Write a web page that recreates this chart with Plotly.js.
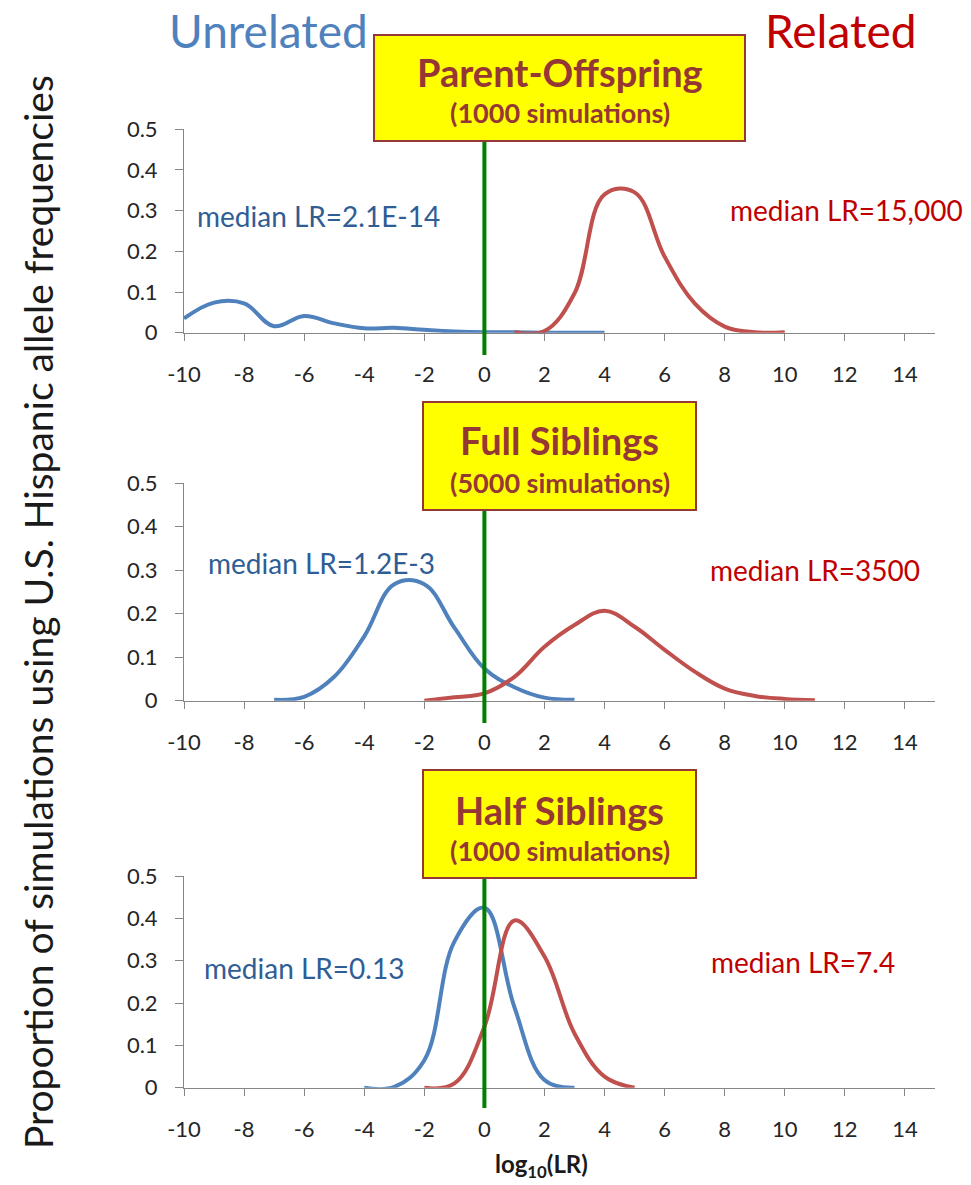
<!DOCTYPE html>
<html>
<head>
<meta charset="utf-8">
<script src="https://cdn.plot.ly/plotly-3.0.1.min.js"></script>
<style>html,body{margin:0;padding:0;background:#fff;}</style>
</head>
<body>
<div id="chart" style="width:971px;height:1185px;"></div>
<script>
// ---------------- data ----------------
const panelTitles = ["Parent-Offspring", "Full Siblings", "Half Siblings"];
const panelSims = ["(1000 simulations)", "(5000 simulations)", "(1000 simulations)"];
const medianUnrelated = ["median LR=2.1E-14", "median LR=1.2E-3", "median LR=0.13"];
const medianRelated = ["median LR=15,000", "median LR=3500", "median LR=7.4"];

// Parent-Offspring
const poUnrelX = [-10, -9, -8, -7, -6, -5, -4, -3, -2, -1, 0, 1, 2, 3, 4];
const poUnrelY = [0.035, 0.074, 0.072, 0.016, 0.041, 0.023, 0.011, 0.012, 0.007, 0.003, 0.001, 0.001, 0, 0, 0];
const poRelX = [1, 2, 3, 4, 5, 6, 7, 8, 9, 10];
const poRelY = [0.002, 0.004, 0.097, 0.34, 0.345, 0.187, 0.072, 0.015, 0.001, 0.001];

// Full Siblings
const fsUnrelX = [-7, -6, -5, -4, -3, -2, -1, 0, 1, 2, 3];
const fsUnrelY = [0.002, 0.009, 0.055, 0.148, 0.268, 0.268, 0.168, 0.074, 0.031, 0.007, 0.002];
const fsRelX = [-2, -1, 0, 1, 2, 3, 4, 5, 6, 7, 8, 9, 10, 11];
const fsRelY = [0.0, 0.008, 0.017, 0.055, 0.124, 0.174, 0.207, 0.17, 0.117, 0.067, 0.028, 0.011, 0.004, 0.001];

// Half Siblings
const hsUnrelX = [-4, -3, -2, -1, 0, 1, 2, 3];
const hsUnrelY = [0.0, 0.002, 0.065, 0.345, 0.425, 0.19, 0.018, 0.0];
const hsRelX = [-2, -1, 0, 1, 2, 3, 4, 5];
const hsRelY = [0.0, 0.01, 0.144, 0.395, 0.31, 0.128, 0.026, 0.0];

const xTickVals = [-10, -8, -6, -4, -2, 0, 2, 4, 6, 8, 10, 12, 14];
const xTickText = ["-10", "-8", "-6", "-4", "-2", "0", "2", "4", "6", "8", "10", "12", "14"];
const yTickVals = [0, 0.1, 0.2, 0.3, 0.4, 0.5];
const yTickText = ["0", "0.1", "0.2", "0.3", "0.4", "0.5"];

// ---------------- styling / layout helpers ----------------
const W = 971, H = 1185;
const px = v => v / W;
const py = v => 1 - v / H;
const BLUE = "#4F81BD", RED = "#C0504D", GREEN = "#008000";
const BOXTXT = "#953735";
const FONT = "Lato, 'Open Sans', sans-serif";

const xDomain = [px(184), px(935)];
const yDomains = [
  [py(332.7), py(129.3)],
  [py(700.7), py(483.3)],
  [py(1087.7), py(876)]
];

const series = [
  [poUnrelX, poUnrelY, poRelX, poRelY],
  [fsUnrelX, fsUnrelY, fsRelX, fsRelY],
  [hsUnrelX, hsUnrelY, hsRelX, hsRelY]
];

const traces = [];
series.forEach((s, i) => {
  const xa = i === 0 ? "x" : "x" + (i + 1);
  const ya = i === 0 ? "y" : "y" + (i + 1);
  traces.push({x: s[0], y: s[1], xaxis: xa, yaxis: ya, type: "scatter", mode: "lines",
    line: {color: BLUE, width: 4, shape: "spline", smoothing: 1.1}, hoverinfo: "skip"});
  traces.push({x: s[2], y: s[3], xaxis: xa, yaxis: ya, type: "scatter", mode: "lines",
    line: {color: RED, width: 4, shape: "spline", smoothing: 1.1}, hoverinfo: "skip"});
});

const layout = {
  width: W, height: H,
  margin: {l: 0, r: 0, t: 0, b: 0},
  paper_bgcolor: "#fff", plot_bgcolor: "rgba(0,0,0,0)",
  showlegend: false,
  font: {family: FONT, color: "#262626"},
  shapes: [], annotations: []
};

const xAxisBase = {
  range: [-10, 15], tickvals: xTickVals, ticktext: xTickText, ticks: "outside", ticklen: 7, tickwidth: 1,
  tickcolor: "#868686", showline: true, linecolor: "#868686", linewidth: 1,
  showgrid: false, zeroline: false, tickfont: {family: FONT, size: 22, color: "#262626"},
  ticklabelstandoff: 15, fixedrange: true
};
const yAxisBase = {
  range: [0, 0.5], tickvals: yTickVals, ticktext: yTickText, ticks: "outside", ticklen: 8, tickwidth: 1,
  tickcolor: "#868686", showline: true, linecolor: "#868686", linewidth: 1,
  showgrid: false, zeroline: false, tickfont: {family: FONT, size: 22, color: "#262626"},
  ticklabelstandoff: 13, fixedrange: true
};

for (let i = 0; i < 3; i++) {
  const xn = i === 0 ? "xaxis" : "xaxis" + (i + 1);
  const yn = i === 0 ? "yaxis" : "yaxis" + (i + 1);
  const ya = i === 0 ? "y" : "y" + (i + 1);
  const xa = i === 0 ? "x" : "x" + (i + 1);
  layout[xn] = Object.assign({}, xAxisBase, {domain: xDomain, anchor: ya});
  layout[yn] = Object.assign({}, yAxisBase, {domain: yDomains[i], anchor: xa});
}

// green vertical lines at log10(LR)=0
const greenSpans = [[355, 135], [723, 500], [1108, 870]];
greenSpans.forEach((g, i) => {
  const xa = i === 0 ? "x" : "x" + (i + 1);
  layout.shapes.push({type: "line", xref: xa, yref: "paper", x0: 0, x1: 0,
    y0: py(g[0]), y1: py(g[1]), line: {color: GREEN, width: 4}, layer: "above"});
});

// yellow boxes
const boxes = [[374, 745, 35, 141], [423, 696, 402, 510], [423, 696, 770, 878]];
boxes.forEach(b => {
  layout.shapes.push({type: "rect", xref: "paper", yref: "paper",
    x0: px(b[0]), x1: px(b[1]), y0: py(b[3]), y1: py(b[2]),
    fillcolor: "#FFFF00", line: {color: BOXTXT, width: 2}, layer: "above"});
});

const titleY = [72, 440, 810];
const simY = [112, 483, 850];
for (let i = 0; i < 3; i++) {
  const cx = (boxes[i][0] + boxes[i][1]) / 2;
  layout.annotations.push({xref: "paper", yref: "paper", x: px(cx), y: py(titleY[i]),
    xanchor: "center", yanchor: "middle", showarrow: false,
    text: "<b>" + panelTitles[i] + "</b>", font: {family: FONT, size: 38, color: BOXTXT}});
  layout.annotations.push({xref: "paper", yref: "paper", x: px(cx), y: py(simY[i]),
    xanchor: "center", yanchor: "middle", showarrow: false,
    text: "<b>" + panelSims[i] + "</b>", font: {family: FONT, size: 27, color: BOXTXT}});
}

// median annotations
const unrelPos = [[195, 216], [206, 563], [202, 968]];
const relPos = [[728, 210], [708, 570], [709, 962]];
for (let i = 0; i < 3; i++) {
  layout.annotations.push({xref: "paper", yref: "paper", x: px(unrelPos[i][0]), y: py(unrelPos[i][1]),
    xanchor: "left", yanchor: "middle", showarrow: false,
    text: medianUnrelated[i], font: {family: FONT, size: 28, color: "#2F5D95"}});
  layout.annotations.push({xref: "paper", yref: "paper", x: px(relPos[i][0]), y: py(relPos[i][1]),
    xanchor: "left", yanchor: "middle", showarrow: false,
    text: medianRelated[i], font: {family: FONT, size: 28, color: "#C00000"}});
}

// header words
layout.annotations.push({xref: "paper", yref: "paper", x: px(268), y: py(30),
  xanchor: "center", yanchor: "middle", showarrow: false,
  text: "Unrelated", font: {family: FONT, size: 46, color: BLUE}});
layout.annotations.push({xref: "paper", yref: "paper", x: px(840), y: py(30),
  xanchor: "center", yanchor: "middle", showarrow: false,
  text: "Related", font: {family: FONT, size: 46, color: "#C00000"}});

// y-axis title
layout.annotations.push({xref: "paper", yref: "paper", x: px(38), y: py(612),
  xanchor: "center", yanchor: "middle", showarrow: false, textangle: -90,
  text: "Proportion of simulations using U.S. Hispanic allele frequencies",
  font: {family: FONT, size: 39, color: "#1a1a1a"}});

// x-axis title
layout.annotations.push({xref: "paper", yref: "paper", x: px(541), y: py(1165),
  xanchor: "center", yanchor: "middle", showarrow: false,
  text: "<b>log<sub>10</sub>(LR)</b>", font: {family: FONT, size: 24, color: "#1a1a1a"}});

Plotly.newPlot("chart", traces, layout, {displayModeBar: false, staticPlot: true});
</script>
</body>
</html>
